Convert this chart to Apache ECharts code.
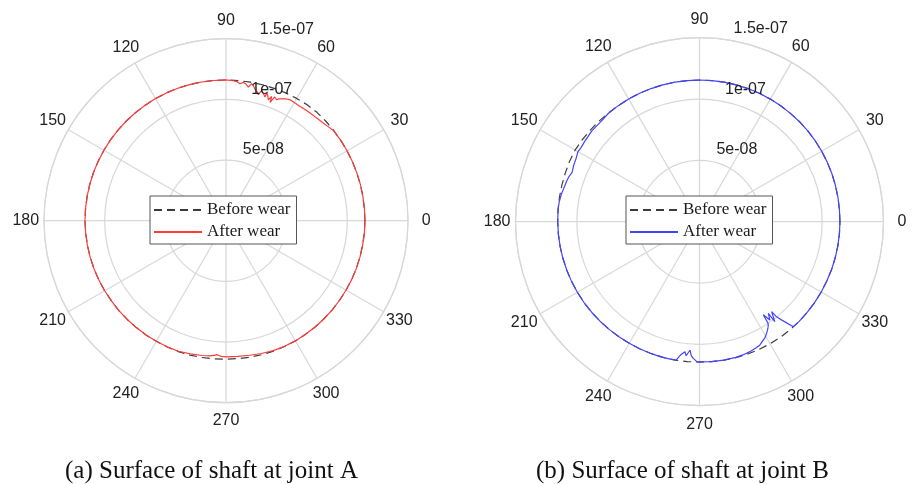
<!DOCTYPE html>
<html><head><meta charset="utf-8">
<script src="https://cdn.jsdelivr.net/npm/echarts@6/dist/echarts.min.js"></script>
<style>html,body{margin:0;padding:0;background:#fff}#c{width:919px;height:484px}</style>
</head><body><div id="c"></div>
<script>
// ---- data (radius in units of 1e-9) ----
const angleTicks = [0, 30, 60, 90, 120, 150, 180, 210, 240, 270, 300, 330];
const radiusTicks = [50, 100, 150];
const radiusTickLabels = ['5e-08', '1e-07', '1.5e-07'];
const legendNames = ['Before wear', 'After wear'];
const captions = ['(a) Surface of shaft at joint A', '(b) Surface of shaft at joint B'];

const angleStep5 = [0,5,10,15,20,25,30,35,40,45,50,55,60,65,70,75,80,85,90,95,100,105,110,115,120,125,130,135,140,145,150,155,160,165,170,175,180,185,190,195,200,205,210,215,220,225,230,235,240,245,250,255,260,265,270,275,280,285,290,295,300,305,310,315,320,325,330,335,340,345,350,355,360];

// Joint A
const radiusBeforeA = [114.5,114.5,114.6,114.7,114.8,115.0,115.2,115.5,115.8,116.2,116.6,116.6,116.4,116.2,116.1,116.0,115.9,115.9,116.0,116.0,116.1,116.1,
  116.2,116.2,116.2,116.2,116.2,116.2,116.2,116.2,116.2,116.2,116.2,116.2,116.2,116.2,116.2,
  116.1,116.0,115.9,115.8,115.6,115.5,115.3,115.2,115.1,115.0,114.9,114.8,114.8,114.8,114.7,114.5,114.3,114.1,114.1,114.2,114.3,114.4,114.4,114.4,114.3,114.3,114.3,114.3,114.3,114.3,114.4,114.4,114.4,114.4,114.5,114.5];
const angleAfterA = [0,5,10,15,20,25,30,35,40,
  43,46,48.5,52,55,57,60,62,64,65,66.5,67.3,68.5,69.6,69.8,70.7,71.5,72.3,72.5,73.6,74.7,75.6,76.5,77.6,78.5,79.4,80.5,81.7,82.9,84.2,85.5,87,
  90,95,100,105,110,115,120,125,130,135,140,145,150,155,160,165,170,175,180,185,190,195,200,205,210,215,220,225,230,235,240,245,
  250,255,260,263,265,266,267,268,270,275,280,285,290,295,
  300,305,310,315,320,325,330,335,340,345,350,355,360];
const radiusAfterA = [114.5,114.5,114.6,114.7,114.8,115.0,115.2,115.5,115.6,
  114.3,113.4,112.9,112.6,112.4,112.2,112.5,112.8,111.8,110.8,109.5,108.1,109.6,104.0,109.1,105.5,108.6,110.4,106.9,109.2,111.3,107.2,109.5,111.1,113.5,114.9,111.7,113.8,114.9,113.5,115.0,115.5,
  116.0,116.0,116.1,116.1,116.2,116.2,116.2,116.2,116.2,116.2,116.2,116.2,116.2,116.2,116.2,116.2,116.2,116.2,116.2,116.1,116.0,115.9,115.8,115.6,115.5,115.3,115.2,115.1,115.0,114.9,114.8,114.7,
  114.5,113.6,112.8,112.3,111.5,110.6,111.2,111.9,112.2,112.3,112.6,113.3,113.9,114.2,
  114.4,114.3,114.3,114.3,114.3,114.3,114.3,114.4,114.4,114.4,114.4,114.5,114.5];

// Joint B
const radiusBeforeB = [114.5,114.5,114.6,114.7,114.8,114.9,115.0,115.1,115.2,115.3,115.3,115.4,115.4,115.5,115.5,115.5,115.5,115.5,115.5,115.5,115.5,115.5,115.5,115.5,115.5,115.5,
  115.6,115.9,116.2,116.6,117.0,116.8,116.4,116.1,115.9,115.7,115.6,115.5,115.4,115.3,115.2,115.1,115.0,114.9,114.8,114.7,114.6,114.5,114.5,114.5,114.5,114.5,114.6,114.5,114.4,114.5,114.6,114.7,114.8,114.9,114.9,115.0,115.0,114.9,114.8,114.7,114.6,114.5,114.5,114.5,114.5,114.5,114.5];
const angleAfterB = [0,5,10,15,20,25,30,35,40,45,50,55,60,65,70,75,80,85,90,95,100,105,110,115,120,125,130,
  135,140,145,148,150,153,156,158,159,161,163,166,169,172,
  175,180,185,190,195,200,205,210,215,220,225,230,235,240,245,250,
  254,258,260.5,262,263.6,264.3,265,265.8,266.5,267.4,268.9,270,275,280,285,288,291,294,296,298.3,299.5,301,302,302.8,303.5,304,304.4,305.6,306.9,307,308.7,309,310,311.8,
  315,320,325,330,335,340,345,350,355,360];
const radiusAfterB = [114.5,114.5,114.6,114.7,114.8,114.9,115.0,115.1,115.2,115.3,115.3,115.4,115.4,115.5,115.5,115.5,115.5,115.5,115.5,115.5,115.5,115.5,115.5,115.5,115.5,115.5,115.4,
  114.6,114.8,114.2,113.9,114.4,113.0,112.4,111.6,111.4,112.6,113.2,113.9,114.9,115.5,
  115.7,115.6,115.5,115.4,115.3,115.2,115.1,115.0,114.9,114.8,114.7,114.6,114.5,114.5,114.5,114.5,
  114.6,114.6,114.3,109.5,106.6,109.8,109.0,104.9,109.5,111.5,114.1,114.3,114.5,114.6,114.5,114.2,113.7,112.8,112.0,109.6,108.5,106.2,104.5,103.0,101.5,100.0,92.0,98.6,93.4,102.0,94.0,99.8,105.0,114.8,
  114.9,114.8,114.7,114.6,114.5,114.5,114.5,114.5,114.5,114.5];

// ---- build ----
const zip = (rs, as) => rs.map((r, i) => [r, as[i]]);
const gridColor = '#d8d8d8';
const textColor = '#222';
const sansFont = 'Liberation Sans, Arial, sans-serif';
const serifFont = 'Liberation Serif, Times New Roman, serif';

const polars = [
  { center: [226, 220.7], radius: 182 },
  { center: [699.5, 221.7], radius: 184 }
];

function angleAxis(i) {
  return {
    polarIndex: i, type: 'value', min: 0, max: 360, interval: 30,
    startAngle: 0, clockwise: false,
    axisLine: { show: true, lineStyle: { color: gridColor, width: 1.2 } },
    axisTick: { show: false }, axisLabel: { show: false },
    splitLine: { show: true, lineStyle: { color: gridColor, width: 1.2 } }
  };
}
function radiusAxis(i) {
  return {
    polarIndex: i, type: 'value', min: 0, max: 150, interval: 50,
    axisLine: { show: false }, axisTick: { show: false }, axisLabel: { show: false },
    splitLine: { show: true, lineStyle: { color: gridColor, width: 1.2 } }
  };
}

function labelSeries(i) {
  return [
    {
      type: 'scatter', coordinateSystem: 'polar', polarIndex: i, silent: true, clip: false,
      symbolSize: 0, z: 5, itemStyle: { opacity: 1 },
      data: angleTicks.map(a => [165, a]),
      label: { show: true, position: 'inside', color: textColor, fontFamily: sansFont, fontSize: 16,
               textBorderWidth: 0, formatter: p => String(p.value[1]) }
    },
    {
      type: 'scatter', coordinateSystem: 'polar', polarIndex: i, silent: true, clip: false,
      symbolSize: 0, z: 5, itemStyle: { opacity: 1 },
      data: radiusTicks.map(r => [r + 2.5, 82]),
      label: { show: true, position: [8, 0], align: 'left', verticalAlign: 'bottom',
               color: textColor, fontFamily: sansFont, fontSize: 16, textBorderWidth: 0,
               formatter: p => radiusTickLabels[p.dataIndex] }
    }
  ];
}

function lineSeries(i, name, data, color, dashed) {
  return {
    type: 'line', coordinateSystem: 'polar', polarIndex: i, name: name,
    data: data, symbol: 'none', showSymbol: false, smooth: false, silent: true, z: 3,
    itemStyle: { color: color },
    lineStyle: { color: color, width: 1.2, type: dashed ? [8, 5] : 'solid' }
  };
}

const suffix = ['', ' '];
const option = {
  animation: false,
  backgroundColor: '#fff',
  polar: polars,
  angleAxis: [angleAxis(0), angleAxis(1)],
  radiusAxis: [radiusAxis(0), radiusAxis(1)],
  title: [
    { text: captions[0], left: 211.5, top: 459, textAlign: 'center', padding: 0,
      textStyle: { fontFamily: serifFont, fontSize: 25, fontWeight: 'normal', color: '#111' } },
    { text: captions[1], left: 682.5, top: 459, textAlign: 'center', padding: 0,
      textStyle: { fontFamily: serifFont, fontSize: 25, fontWeight: 'normal', color: '#111' } }
  ],
  legend: [0, 1].map(i => ({
    data: legendNames.map(n => n + suffix[i]),
    formatter: n => n.trim(),
    left: i === 0 ? 150 : 626, top: 196,
    orient: 'vertical', itemWidth: 48, itemHeight: 14, itemGap: 4,
    padding: [5, 6, 3, 3],
    borderColor: '#555', borderWidth: 1, borderRadius: 0, backgroundColor: '#fff',
    selectedMode: false, z: 10,
    itemStyle: { opacity: 0 },
    textStyle: { fontFamily: serifFont, fontSize: 17, lineHeight: 18, color: '#1a1a1a' }
  })),
  series: [
    lineSeries(0, legendNames[0], zip(radiusBeforeA, angleStep5), '#3c3c3c', true),
    lineSeries(0, legendNames[1], zip(radiusAfterA, angleAfterA), '#ff3c3c', false),
    lineSeries(1, legendNames[0] + ' ', zip(radiusBeforeB, angleStep5), '#3c3c3c', true),
    lineSeries(1, legendNames[1] + ' ', zip(radiusAfterB, angleAfterB), '#4444ff', false),
    ...labelSeries(0), ...labelSeries(1)
  ]
};
const chart = echarts.init(document.getElementById('c'), null, { renderer: 'canvas' });
chart.setOption(option);
</script>
</body></html>
